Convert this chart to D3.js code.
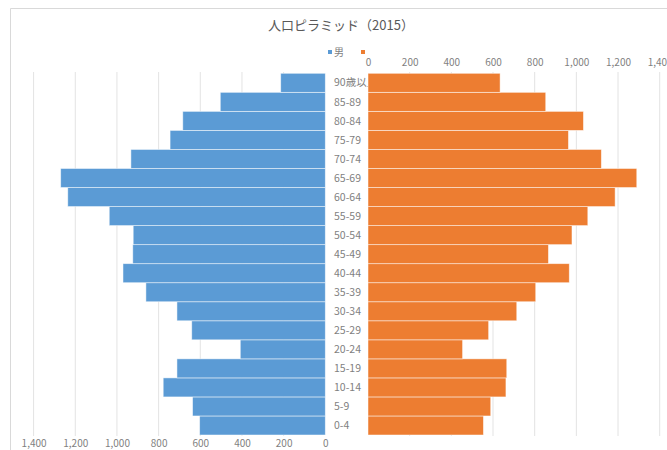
<!DOCTYPE html>
<html lang="ja">
<head>
<meta charset="UTF-8">
<title>人口ピラミッド</title>
<script src="https://d3js.org/d3.v7.min.js"></script>
<style>
  body { margin: 0; background: #fff; }
  text { font-family: "Noto Sans CJK JP", "Noto Sans", sans-serif; }
</style>
</head>
<body>
<script>
    // 年齢階級 (下から上へ)
    var ageGroups = ["0-4","5-9","10-14","15-19","20-24","25-29","30-34","35-39","40-44",
        "45-49","50-54","55-59","60-64","65-69","70-74","75-79","80-84","85-89","90歳以上"];
    var male   = [603, 637, 778, 712, 408, 641, 712, 861, 971, 924, 922, 1037, 1236, 1270, 933, 745, 684, 504, 214];
    var female = [554, 589, 662, 666, 454, 579, 714, 805, 966, 866, 979, 1055, 1186, 1290, 1120, 962, 1034, 853, 634];
    var tickValues = [0, 200, 400, 600, 800, 1000, 1200, 1400];
    var seriesNames = ["男", ""];

    var width = 667, height = 450;
    var blue = "#5b9bd5", orange = "#ed7d31";
    var gridColor = "#e3e3e3", textColor = "#7f7f7f";

    var data = ageGroups.map(function (g, i) {
        return {age: g, m: male[i], f: female[i]};
    });

    var svg = d3.select("body").append("svg")
        .attr("width", width)
        .attr("height", height);

    // 枠線
    svg.append("path")
        .attr("d", "M10.5," + height + "V8.5H" + width)
        .attr("fill", "none")
        .attr("stroke", "#d9d9d9");

    var xL = d3.scaleLinear().domain([0, 1400]).range([325.3, 33.6]);
    var xR = d3.scaleLinear().domain([0, 1400]).range([368, 659.7]);
    var y = d3.scaleBand()
        .domain(ageGroups.slice().reverse())
        .range([73.3, 435])
        .padding(0);

    // グリッド
    svg.append("g").selectAll("line")
        .data(tickValues.slice(1))
        .enter().append("line")
        .attr("x1", d => xL(d)).attr("x2", d => xL(d))
        .attr("y1", 72).attr("y2", 436)
        .attr("stroke", gridColor);
    svg.append("g").selectAll("line")
        .data(tickValues.slice(1))
        .enter().append("line")
        .attr("x1", d => xR(d)).attr("x2", d => xR(d))
        .attr("y1", 72).attr("y2", 436)
        .attr("stroke", gridColor);

    // 年齢ラベル (バーの下に描く)
    svg.append("g").selectAll("text")
        .data(data)
        .enter().append("text")
        .attr("x", 334)
        .attr("y", d => y(d.age) + y.bandwidth() / 2)
        .attr("dy", "0.35em")
        .attr("font-size", 10.5)
        .attr("fill", textColor)
        .text(d => d.age);

    // 男
    svg.append("g").selectAll("rect")
        .data(data)
        .enter().append("rect")
        .attr("x", d => xL(d.m))
        .attr("y", d => y(d.age))
        .attr("width", d => xL(0) - xL(d.m))
        .attr("height", y.bandwidth())
        .attr("fill", blue)
        .attr("stroke", "#fff")
        .attr("stroke-opacity", 0.6)
        .attr("stroke-width", 0.8);

    // 女
    svg.append("g").selectAll("rect")
        .data(data)
        .enter().append("rect")
        .attr("x", xR(0))
        .attr("y", d => y(d.age))
        .attr("width", d => xR(d.f) - xR(0))
        .attr("height", y.bandwidth())
        .attr("fill", orange)
        .attr("stroke", "#fff")
        .attr("stroke-opacity", 0.6)
        .attr("stroke-width", 0.8);

    // 軸
    var fmt = d3.format(",");
    var topAxis = svg.append("g")
        .attr("transform", "translate(0,69)")
        .call(d3.axisTop(xR).tickValues(tickValues).tickSize(0).tickFormat(fmt));
    var bottomAxis = svg.append("g")
        .attr("transform", "translate(0,436.5)")
        .call(d3.axisBottom(xL).tickValues(tickValues).tickSize(0).tickFormat(fmt));
    [topAxis, bottomAxis].forEach(function (ax) {
        ax.select(".domain").remove();
        ax.selectAll("text")
            .attr("fill", textColor)
            .attr("font-size", 10)
            .style("font-family", "'Noto Sans CJK JP', sans-serif");
    });

    // タイトル
    svg.append("text")
        .attr("x", 341)
        .attr("y", 25)
        .attr("dy", "0.35em")
        .attr("text-anchor", "middle")
        .attr("font-size", 13)
        .attr("fill", "#595959")
        .text("人口ピラミッド（2015）");

    // 凡例
    var legend = svg.append("g").attr("transform", "translate(328,52)");
    legend.selectAll("rect")
        .data(seriesNames)
        .enter().append("rect")
        .attr("x", (d, i) => i * 33)
        .attr("y", -2)
        .attr("width", 4)
        .attr("height", 4)
        .attr("fill", (d, i) => i == 0 ? blue : orange);
    legend.selectAll("text")
        .data(seriesNames)
        .enter().append("text")
        .attr("x", (d, i) => i * 33 + 6)
        .attr("y", 0)
        .attr("dy", "0.35em")
        .attr("font-size", 10)
        .attr("fill", textColor)
        .text(d => d);
</script>
</body>
</html>
